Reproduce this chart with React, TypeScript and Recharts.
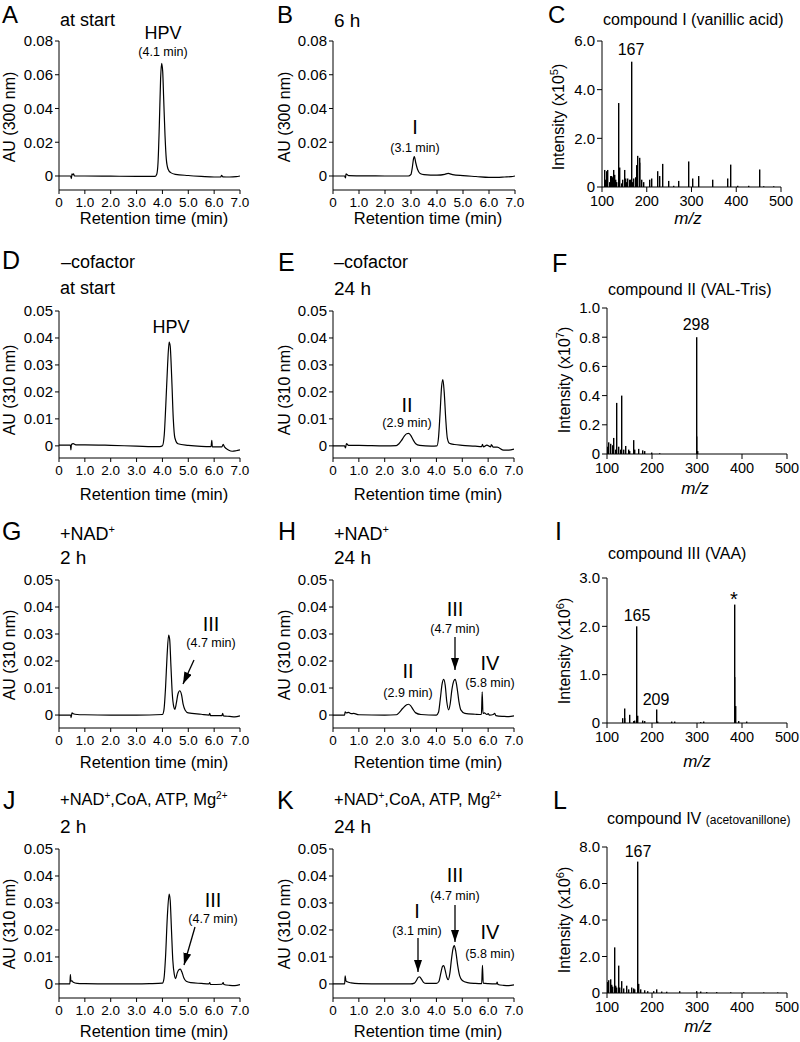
import React from "react";
import { LineChart, Line, BarChart, Bar, XAxis, YAxis } from "recharts";

const FONT = '"Liberation Sans", Arial, Helvetica, sans-serif';

// tick labels
const timeTicks = [0, 1, 2, 3, 4, 5, 6, 7];
const au08Ticks = [0, 0.02, 0.04, 0.06, 0.08];
const au05Ticks = [0, 0.01, 0.02, 0.03, 0.04, 0.05];
const mzTicks = [100, 200, 300, 400, 500];
const intTicksC = [0, 2, 4, 6];
const intTicksF = [0, 0.2, 0.4, 0.6, 0.8, 1.0];
const intTicksI = [0, 1, 2, 3];
const intTicksL = [0, 2, 4, 6, 8];

// chromatograms: [retention time (min), AU]
const traceA: [number, number][] = [
  [0, 0], [0.45, 0], [0.48, -0.0015], [0.5, 0.0012], [0.53, 0.0008], [0.56, 0.0012], [0.6, 0],
  [1.0, 0], [2.0, -0.0001], [3.0, -0.0002], [3.72, -0.0002], [3.78, 0.001], [3.83, 0.008],
  [3.88, 0.03], [3.93, 0.058], [3.97, 0.0668], [4.01, 0.062], [4.05, 0.045], [4.1, 0.024],
  [4.15, 0.01], [4.22, 0.004], [4.32, 0.002], [4.5, 0.001], [5.0, 0.0003], [5.5, -0.0002],
  [6.0, -0.0006], [6.25, -0.0006], [6.29, 0.0004], [6.33, -0.0005], [6.6, -0.0006], [6.85, -0.0004], [7.0, 0],
];
const traceB: [number, number][] = [
  [0, 0], [0.45, 0], [0.48, -0.0012], [0.5, 0.0012], [0.55, 0.0008], [0.6, 0.0002], [1.0, 0.0001],
  [2.0, 0], [2.9, 0], [3.0, 0.001], [3.05, 0.005], [3.1, 0.0105], [3.13, 0.0115], [3.18, 0.008],
  [3.25, 0.004], [3.35, 0.0015], [3.5, 0.0008], [4.0, 0.0005], [4.3, 0.001], [4.43, 0.0015],
  [4.6, 0.0008], [5.0, 0.0002], [5.5, -0.0003], [6.0, -0.0008], [6.3, -0.0008], [6.6, -0.0006],
  [6.85, -0.0004], [7.0, 0],
];
const traceD: [number, number][] = [
  [0, 0.0003], [0.44, 0.0003], [0.46, -0.0015], [0.48, 0.0005], [0.55, 0.0008], [0.65, 0.0004],
  [1.0, 0.0004], [2.0, 0.0002], [3.0, -0.0001], [3.9, -0.0003], [4.0, 0], [4.07, 0.004],
  [4.13, 0.015], [4.2, 0.03], [4.26, 0.0385], [4.3, 0.037], [4.36, 0.025], [4.42, 0.01],
  [4.48, 0.003], [4.6, 0.0008], [5.0, 0.0002], [5.5, -0.0002], [5.88, -0.0003], [5.91, 0.002],
  [5.93, -0.0004], [6.3, -0.0004], [6.35, 0.0006], [6.4, -0.0004], [6.55, -0.0015], [6.7, -0.002],
  [6.85, -0.0018], [7.0, -0.0015],
];
const traceE: [number, number][] = [
  [0, 0], [0.45, 0], [0.48, -0.0008], [0.52, 0.0008], [0.6, 0.0002], [1.0, 0.0002], [2.0, 0],
  [2.45, 0.0001], [2.55, 0.0008], [2.65, 0.002], [2.75, 0.0035], [2.85, 0.0045], [2.92, 0.0046],
  [3.0, 0.004], [3.1, 0.0022], [3.2, 0.0008], [3.35, 0.0002], [3.8, -0.0001], [4.02, 0],
  [4.08, 0.003], [4.14, 0.012], [4.2, 0.022], [4.25, 0.0246], [4.3, 0.02], [4.36, 0.01],
  [4.42, 0.003], [4.5, 0.001], [4.7, 0.0005], [5.0, 0.0002], [5.5, -0.0001], [5.75, -0.0003],
  [5.78, 0.0006], [5.82, -0.0004], [5.95, 0.0003], [6.1, -0.0004], [6.12, 0.0005], [6.2, -0.0005],
  [6.35, -0.0005], [6.6, -0.0016], [6.8, -0.0016], [7.0, -0.0012],
];
const traceG: [number, number][] = [
  [0, 0], [0.45, 0], [0.47, -0.001], [0.5, 0.0008], [0.55, 0.0005], [0.7, 0.0002], [1.0, 0.0001],
  [2.0, 0], [3.0, 0], [4.0, 0.0002], [4.06, 0.002], [4.12, 0.01], [4.18, 0.022], [4.24, 0.0296],
  [4.28, 0.028], [4.33, 0.018], [4.38, 0.008], [4.44, 0.003], [4.48, 0.0021], [4.54, 0.0045],
  [4.6, 0.0078], [4.67, 0.009], [4.74, 0.0075], [4.8, 0.004], [4.88, 0.0018], [5.0, 0.0008],
  [5.5, 0.0003], [5.8, 0], [5.83, 0.0006], [5.86, -0.0002], [6.0, -0.0002], [6.3, -0.0002],
  [6.33, 0.0006], [6.36, -0.0003], [6.6, -0.0005], [6.8, -0.0007], [7.0, -0.0003],
];
const traceH: [number, number][] = [
  [0, 0], [0.45, 0], [0.47, 0.0012], [0.52, 0.0008], [0.6, 0.001], [0.7, 0.0005], [0.8, 0.0006],
  [1.0, 0.0001], [2.0, 0], [2.45, 0.0001], [2.55, 0.0008], [2.7, 0.0025], [2.85, 0.0038],
  [2.92, 0.004], [3.0, 0.0035], [3.1, 0.002], [3.2, 0.0008], [3.4, 0.0002], [4.0, 0],
  [4.08, 0.001], [4.15, 0.006], [4.22, 0.0115], [4.28, 0.0132], [4.34, 0.011], [4.4, 0.005],
  [4.47, 0.0019], [4.53, 0.004], [4.6, 0.0095], [4.68, 0.0128], [4.73, 0.0132], [4.8, 0.01],
  [4.87, 0.005], [4.95, 0.0018], [5.1, 0.0006], [5.5, 0.0003], [5.74, 0.0002], [5.77, 0.0086],
  [5.8, 0.0006], [5.85, 0.0008], [5.95, 0.0002], [6.0, 0.0005], [6.05, 0], [6.2, 0.0002],
  [6.25, 0.0006], [6.3, -0.0002], [6.6, -0.0005], [6.8, -0.0006], [7.0, -0.0003],
];
const traceJ: [number, number][] = [
  [0, 0], [0.42, 0], [0.44, 0.0035], [0.46, 0.001], [0.5, 0.0012], [0.55, 0.0006], [0.7, 0.0002],
  [1.0, 0.0001], [2.0, 0], [3.0, 0], [3.5, 0.0001], [4.0, 0.0003], [4.06, 0.002], [4.12, 0.01],
  [4.19, 0.025], [4.26, 0.0333], [4.3, 0.031], [4.35, 0.02], [4.4, 0.009], [4.46, 0.0035],
  [4.51, 0.002], [4.57, 0.004], [4.63, 0.0052], [4.69, 0.0055], [4.75, 0.0045], [4.83, 0.0022],
  [4.92, 0.001], [5.1, 0.0005], [5.5, 0.0002], [5.8, 0], [5.83, 0.0005], [5.86, -0.0002],
  [6.3, -0.0001], [6.35, 0.0005], [6.38, -0.0002], [6.6, -0.0005], [6.8, -0.0006], [7.0, -0.0002],
];
const traceK: [number, number][] = [
  [0, 0], [0.45, 0], [0.47, 0.003], [0.5, 0.0012], [0.55, 0.0008], [0.7, 0.0004], [1.0, 0.0001],
  [2.0, 0], [3.0, 0], [3.15, 0.0003], [3.22, 0.0012], [3.3, 0.0025], [3.35, 0.0026], [3.42, 0.0018],
  [3.5, 0.0006], [3.6, 0.0002], [4.0, 0.0002], [4.1, 0.001], [4.17, 0.004], [4.24, 0.0066],
  [4.28, 0.0068], [4.34, 0.005], [4.4, 0.0025], [4.46, 0.0016], [4.52, 0.004], [4.58, 0.009],
  [4.64, 0.013], [4.69, 0.0142], [4.75, 0.012], [4.82, 0.007], [4.9, 0.003], [5.0, 0.0013],
  [5.2, 0.0005], [5.5, 0.0002], [5.75, 0.0001], [5.78, 0.0069], [5.81, 0.0003], [6.0, 0.0001],
  [6.32, 0], [6.35, 0.0007], [6.38, -0.0002], [6.6, -0.0005], [6.8, -0.0006], [7.0, -0.0003],
];

// mass spectra: [m/z, intensity]
const specC: [number, number][] = [
  [105, 0.7], [108, 0.3], [110, 0.65], [113, 0.7], [116, 0.2], [119, 0.45], [122, 0.45],
  [124, 0.4], [126, 0.7], [128, 0.5], [130, 0.3], [133, 0.2], [137, 3.45], [139, 0.8],
  [143, 0.15], [146, 0.3], [150, 0.7], [152, 0.35], [155, 0.2], [157, 0.35], [161, 0.3],
  [164, 0.3], [167, 5.15], [169, 0.2], [171, 0.35], [174, 0.4], [177, 0.65], [178, 0.9],
  [180, 1.28], [183, 1.2], [184, 1.0], [188, 0.3], [192, 0.2], [207, 0.3], [210, 0.35],
  [224, 0.65], [228, 0.45], [236, 0.95], [249, 0.25], [260, 0.05], [270, 0.25], [294, 1.05],
  [303, 0.35], [315, 0.45], [346, 0.3], [380, 0.35], [388, 0.92], [402, 0.05], [428, 0.05],
  [452, 0.72], [461, 0.03], [484, 0.03],
];
const specF: [number, number][] = [
  [102, 0.05], [104, 0.08], [108, 0.07], [112, 0.06], [115, 0.11], [119, 0.03], [122, 0.35],
  [126, 0.05], [130, 0.03], [132, 0.4], [136, 0.03], [142, 0.055], [147, 0.03], [151, 0.02],
  [158, 0.095], [162, 0.03], [171, 0.035], [179, 0.025], [184, 0.02], [199, 0.01], [217, 0.005],
  [298, 0.8], [299, 0.12], [301, 0.02],
];
const specI: [number, number][] = [
  [134, 0.1], [138, 0.3], [140, 0.1], [149, 0.17], [158, 0.04], [162, 0.05], [165, 2.0],
  [167, 0.15], [180, 0.05], [184, 0.04], [209, 0.28], [212, 0.03], [243, 0.03], [249, 0.03],
  [307, 0.02], [314, 0.03], [383, 2.45], [384, 0.95], [386, 0.35], [392, 0.04], [411, 0.03],
];
const specL: [number, number][] = [
  [102, 0.6], [104, 0.7], [107, 0.75], [110, 0.45], [113, 0.35], [117, 2.5], [119, 0.4],
  [122, 0.3], [125, 1.5], [128, 0.3], [133, 0.65], [136, 0.25], [143, 0.4], [148, 0.2],
  [154, 0.3], [158, 0.25], [162, 0.2], [167, 7.2], [171, 0.5], [175, 0.2], [184, 0.15],
  [191, 0.1], [203, 0.1], [210, 0.2], [221, 0.08], [232, 0.07], [262, 0.1], [299, 0.1],
  [307, 0.08], [322, 0.05], [344, 0.05], [374, 0.04], [403, 0.04], [448, 0.03], [478, 0.03],
];

type Box = { x0: number; x1: number; y0: number; y1: number };

const YW = 50;
const XH = 40;
const MT = 10;
const MR = 14;
const axisStyle = { stroke: "#000", strokeWidth: 1 };

const fmtTime = (v: number) => (v === 0 ? "0" : v.toFixed(1));
const fmtAu = (v: number) => (v === 0 ? "0" : v.toFixed(2));
const fmtInt = (v: number) => (v === 0 ? "0" : v.toFixed(1));

function place(box: Box) {
  return {
    style: { position: "absolute" as const, left: box.x0 - YW, top: box.y0 - MT },
    width: box.x1 - box.x0 + YW + MR,
    height: box.y1 - box.y0 + MT + XH,
  };
}

function Chromatogram({ box, trace, yDomain, yTicks }: { box: Box; trace: [number, number][]; yDomain: [number, number]; yTicks: number[] }) {
  const data = trace.map(([t, v]) => ({ t, v }));
  const p = place(box);
  return (
    <div style={p.style}>
      <LineChart width={p.width} height={p.height} data={data} margin={{ top: MT, right: MR, bottom: 0, left: 0 }}>
        <XAxis dataKey="t" type="number" domain={[0, 7]} ticks={timeTicks} interval={0} tickFormatter={fmtTime}
          height={XH} axisLine={axisStyle} tickLine={axisStyle} tickSize={4} tickMargin={3}
          tick={{ fill: "#000", fontSize: 13.5 }} allowDataOverflow />
        <YAxis type="number" domain={yDomain} ticks={yTicks} interval={0} tickFormatter={fmtAu}
          width={YW} axisLine={axisStyle} tickLine={axisStyle} tickSize={4} tickMargin={2}
          tick={{ fill: "#000", fontSize: 15 }} allowDataOverflow />
        <Line dataKey="v" type="monotone" stroke="#000" strokeWidth={1.2} dot={false} isAnimationActive={false} />
      </LineChart>
    </div>
  );
}

// thin stick for each spectrum peak, centred where the Bar series puts it
const Stick = (props: any) => {
  const cx = props.x + props.width / 2;
  return <rect x={Math.floor(cx)} y={props.y} width={1.4} height={props.height} fill="#000" />;
};

function Spectrum({ box, spec, yMax, yTicks }: { box: Box; spec: [number, number][]; yMax: number; yTicks: number[] }) {
  const data = spec.map(([mz, i]) => ({ mz, i }));
  const p = place(box);
  return (
    <div style={p.style}>
      <BarChart width={p.width} height={p.height} data={data} margin={{ top: MT, right: MR, bottom: 0, left: 0 }}>
        <XAxis dataKey="mz" type="number" domain={[100, 500]} ticks={mzTicks} interval={0}
          height={XH} axisLine={axisStyle} tickLine={axisStyle} tickSize={5} tickMargin={4}
          tick={{ fill: "#000", fontSize: 14.5 }} allowDataOverflow />
        <YAxis type="number" domain={[0, yMax]} ticks={yTicks} interval={0} tickFormatter={fmtInt}
          width={YW} axisLine={axisStyle} tickLine={axisStyle} tickSize={5} tickMargin={2}
          tick={{ fill: "#000", fontSize: 15 }} allowDataOverflow />
        <Bar dataKey="i" fill="#000" barSize={1.4} shape={Stick} isAnimationActive={false} />
      </BarChart>
    </div>
  );
}

const T = ({ x, y, s, a = "start", children, italic }: { x: number; y: number; s: number; a?: "start" | "middle" | "end"; children: React.ReactNode; italic?: boolean }) => (
  <text x={x} y={y} fontSize={s} textAnchor={a} fill="#000" fontStyle={italic ? "italic" : "normal"}>{children}</text>
);

const VLabel = ({ x, y, children }: { x: number; y: number; children: React.ReactNode }) => (
  <text x={x} y={y} fontSize={16} textAnchor="middle" fill="#000" transform={`rotate(-90 ${x} ${y})`}>{children}</text>
);

const Arrow = ({ x1, y1, x2, y2 }: { x1: number; y1: number; x2: number; y2: number }) => (
  <line x1={x1} y1={y1} x2={x2} y2={y2} stroke="#000" strokeWidth={1.3} markerEnd="url(#ah)" />
);

const NAD = () => (
  <>
    +NAD<tspan dy={-7} fontSize={11}>+</tspan>
  </>
);
const Cofactors = () => (
  <>
    +NAD<tspan dy={-6} fontSize={10}>+</tspan><tspan dy={6}>,CoA, ATP, Mg</tspan><tspan dy={-6} fontSize={10}>2+</tspan>
  </>
);
const Exp = ({ e }: { e: string }) => (
  <>
    Intensity (x10<tspan dy={-6} fontSize={11}>{e}</tspan><tspan dy={6}>)</tspan>
  </>
);

export default function App() {
  const boxA = { x0: 59, x1: 240, y0: 41, y1: 190 };
  const boxB = { x0: 333, x1: 515, y0: 41, y1: 190 };
  const boxC = { x0: 602, x1: 781, y0: 41, y1: 187 };
  const boxD = { x0: 59, x1: 240, y0: 311, y1: 458 };
  const boxE = { x0: 333, x1: 514, y0: 311, y1: 458 };
  const boxF = { x0: 607, x1: 787, y0: 308, y1: 454 };
  const boxG = { x0: 59, x1: 240, y0: 580, y1: 728 };
  const boxH = { x0: 333, x1: 514, y0: 580, y1: 728 };
  const boxI = { x0: 607, x1: 787, y0: 578, y1: 723 };
  const boxJ = { x0: 59, x1: 240, y0: 849, y1: 998 };
  const boxK = { x0: 333, x1: 514, y0: 849, y1: 998 };
  const boxL = { x0: 607, x1: 787, y0: 847, y1: 993 };

  return (
    <div style={{ position: "absolute", left: 0, top: 0, width: 800, height: 1042, background: "#fff", fontFamily: FONT, overflow: "hidden" }}>
      <Chromatogram box={boxA} trace={traceA} yDomain={[-0.0083, 0.08]} yTicks={au08Ticks} />
      <Chromatogram box={boxB} trace={traceB} yDomain={[-0.0083, 0.08]} yTicks={au08Ticks} />
      <Spectrum box={boxC} spec={specC} yMax={6} yTicks={intTicksC} />
      <Chromatogram box={boxD} trace={traceD} yDomain={[-0.0045, 0.05]} yTicks={au05Ticks} />
      <Chromatogram box={boxE} trace={traceE} yDomain={[-0.0045, 0.05]} yTicks={au05Ticks} />
      <Spectrum box={boxF} spec={specF} yMax={1} yTicks={intTicksF} />
      <Chromatogram box={boxG} trace={traceG} yDomain={[-0.0048, 0.05]} yTicks={au05Ticks} />
      <Chromatogram box={boxH} trace={traceH} yDomain={[-0.0048, 0.05]} yTicks={au05Ticks} />
      <Spectrum box={boxI} spec={specI} yMax={3} yTicks={intTicksI} />
      <Chromatogram box={boxJ} trace={traceJ} yDomain={[-0.0052, 0.05]} yTicks={au05Ticks} />
      <Chromatogram box={boxK} trace={traceK} yDomain={[-0.0052, 0.05]} yTicks={au05Ticks} />
      <Spectrum box={boxL} spec={specL} yMax={8} yTicks={intTicksL} />

      <svg width={800} height={1042} style={{ position: "absolute", left: 0, top: 0, pointerEvents: "none" }} fontFamily={FONT}>
        <defs>
          <marker id="ah" viewBox="0 0 10 10" refX="10" refY="5" markerWidth="12" markerHeight="8"
            markerUnits="userSpaceOnUse" orient="auto" preserveAspectRatio="none">
            <path d="M0,0 L10,5 L0,10 z" fill="#000" />
          </marker>
        </defs>

        {/* panel letters */}
        <T x={2} y={23} s={24}>A</T>
        <T x={277} y={23} s={24}>B</T>
        <T x={548} y={23} s={24}>C</T>
        <T x={2} y={269} s={25}>D</T>
        <T x={278} y={271} s={25}>E</T>
        <T x={552} y={272} s={25}>F</T>
        <T x={2} y={540} s={25}>G</T>
        <T x={278} y={540} s={25}>H</T>
        <T x={555} y={540} s={25}>I</T>
        <T x={3} y={809} s={25}>J</T>
        <T x={277} y={809} s={25}>K</T>
        <T x={553} y={809} s={25}>L</T>

        {/* row 1 */}
        <T x={60} y={26} s={18}>at start</T>
        <T x={163} y={39} s={18} a="middle">HPV</T>
        <T x={163} y={56} s={12.5} a="middle">(4.1 min)</T>
        <T x={334} y={27} s={19}>6 h</T>
        <T x={415} y={134} s={20} a="middle">I</T>
        <T x={415} y={152} s={12.5} a="middle">(3.1 min)</T>
        <T x={603} y={25} s={16}>compound I (vanillic acid)</T>
        <T x={631} y={55} s={16} a="middle">167</T>

        {/* row 2 */}
        <T x={61} y={268} s={18}>–cofactor</T>
        <T x={60} y={294} s={18}>at start</T>
        <T x={171} y={333} s={18} a="middle">HPV</T>
        <T x={334} y={268} s={18}>–cofactor</T>
        <T x={334} y={295} s={19}>24 h</T>
        <T x={407} y={412} s={20} a="middle">II</T>
        <T x={407} y={427} s={12.5} a="middle">(2.9 min)</T>
        <T x={608} y={295} s={16}>compound II (VAL-Tris)</T>
        <T x={696} y={330} s={16} a="middle">298</T>

        {/* row 3 */}
        <T x={60} y={540} s={18}><NAD /></T>
        <T x={60} y={564} s={19}>2 h</T>
        <T x={211} y={631} s={20} a="middle">III</T>
        <T x={211} y={647} s={12.5} a="middle">(4.7 min)</T>
        <Arrow x1={194} y1={660} x2={183} y2={684} />
        <T x={334} y={540} s={18}><NAD /></T>
        <T x={334} y={564} s={19}>24 h</T>
        <T x={455} y={616} s={20} a="middle">III</T>
        <T x={455} y={633} s={12.5} a="middle">(4.7 min)</T>
        <Arrow x1={455} y1={637} x2={455} y2={670} />
        <T x={408} y={678} s={20} a="middle">II</T>
        <T x={408} y={697} s={12.5} a="middle">(2.9 min)</T>
        <T x={490} y={670} s={20} a="middle">IV</T>
        <T x={490} y={687} s={12.5} a="middle">(5.8 min)</T>
        <T x={608} y={559} s={16}>compound III (VAA)</T>
        <T x={734} y={606} s={20} a="middle">*</T>
        <T x={637} y={621} s={16} a="middle">165</T>
        <T x={656} y={705} s={16} a="middle">209</T>

        {/* row 4 */}
        <T x={60} y={805} s={16.5}><Cofactors /></T>
        <T x={60} y={833} s={19}>2 h</T>
        <T x={213} y={907} s={20} a="middle">III</T>
        <T x={213} y={923} s={12.5} a="middle">(4.7 min)</T>
        <Arrow x1={195} y1={927} x2={184} y2={965} />
        <T x={334} y={805} s={16.5}><Cofactors /></T>
        <T x={334} y={833} s={19}>24 h</T>
        <T x={417} y={918} s={20} a="middle">I</T>
        <T x={417} y={935} s={12.5} a="middle">(3.1 min)</T>
        <Arrow x1={418} y1={938} x2={418} y2={972} />
        <T x={455} y={882} s={20} a="middle">III</T>
        <T x={455} y={900} s={12.5} a="middle">(4.7 min)</T>
        <Arrow x1={455} y1={905} x2={455} y2={942} />
        <T x={490} y={939} s={20} a="middle">IV</T>
        <T x={490} y={958} s={12.5} a="middle">(5.8 min)</T>
        <text x={607} y={824} fill="#000" fontSize={16}>compound IV <tspan fontSize={12}>(acetovanillone)</tspan></text>
        <T x={638} y={857} s={16} a="middle">167</T>

        {/* axis titles */}
        <T x={154} y={224} s={16.5} a="middle">Retention time (min)</T>
        <T x={428} y={224} s={16.5} a="middle">Retention time (min)</T>
        <T x={688} y={224} s={17} a="middle" italic>m/z</T>
        <T x={154} y={500} s={16.5} a="middle">Retention time (min)</T>
        <T x={428} y={500} s={16.5} a="middle">Retention time (min)</T>
        <T x={695} y={494} s={17} a="middle" italic>m/z</T>
        <T x={154} y={768} s={16.5} a="middle">Retention time (min)</T>
        <T x={428} y={768} s={16.5} a="middle">Retention time (min)</T>
        <T x={697} y={767} s={17} a="middle" italic>m/z</T>
        <T x={154} y={1037} s={16.5} a="middle">Retention time (min)</T>
        <T x={428} y={1037} s={16.5} a="middle">Retention time (min)</T>
        <T x={698} y={1032} s={17} a="middle" italic>m/z</T>

        <VLabel x={15} y={117}>AU (300 nm)</VLabel>
        <VLabel x={290} y={117}>AU (300 nm)</VLabel>
        <VLabel x={564} y={117}><Exp e="5" /></VLabel>
        <VLabel x={15} y={390}>AU (310 nm)</VLabel>
        <VLabel x={290} y={390}>AU (310 nm)</VLabel>
        <VLabel x={570} y={380}><Exp e="7" /></VLabel>
        <VLabel x={15} y={655}>AU (310 nm)</VLabel>
        <VLabel x={290} y={655}>AU (310 nm)</VLabel>
        <VLabel x={570} y={651}><Exp e="6" /></VLabel>
        <VLabel x={15} y={924}>AU (310 nm)</VLabel>
        <VLabel x={290} y={924}>AU (310 nm)</VLabel>
        <VLabel x={570} y={920}><Exp e="6" /></VLabel>
      </svg>
    </div>
  );
}
